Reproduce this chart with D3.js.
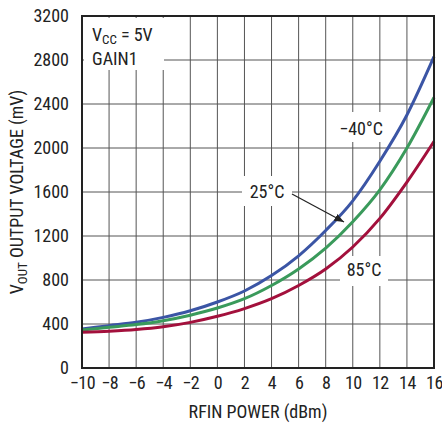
<!DOCTYPE html>
<html lang="en">
<head>
  <meta charset="UTF-8">
  <title>VOUT vs RFIN</title>
  <script src="https://d3js.org/d3.v7.min.js"></script>
  <style>
    body { margin: 0; background: #fff; }
    text { font-family: "Liberation Sans Narrow", "Roboto Condensed", "Liberation Sans", sans-serif; fill: #222; }
  </style>
</head>
<body>
<script>
  // data
  const power = [-10, -8, -6, -4, -2, 0, 2, 4, 6, 8, 10, 12, 14, 16];
  const vMinus40 = [355, 385, 415, 460, 520, 600, 700, 840, 1020, 1250, 1520, 1880, 2300, 2830];
  const v25 = [345, 370, 395, 430, 480, 545, 630, 750, 900, 1090, 1330, 1620, 2000, 2460];
  const v85 = [325, 335, 350, 375, 415, 470, 540, 630, 750, 900, 1100, 1360, 1690, 2060];
  const xTicks = d3.range(-10, 17, 2);
  const yTicks = d3.range(0, 3201, 400);

  const series = [
    { name: "-40", values: vMinus40, color: "#3b55a5" },
    { name: "25", values: v25, color: "#3a9a5b" },
    { name: "85", values: v85, color: "#a3103c" },
  ];

  // render
  const svg = d3.select("body").append("svg")
      .attr("width", 442).attr("height", 425);

  const mLeft = 82, mRight = 434, mTop = 16, mBottom = 368;
  const x = d3.scaleLinear().domain([-10, 16]).range([mLeft, mRight]);
  const y = d3.scaleLinear().domain([0, 3200]).range([mBottom, mTop]);

  const grid = svg.append("g").attr("stroke", "#555").attr("stroke-width", 1);
  grid.selectAll(".v").data(xTicks).join("line")
      .attr("x1", d => x(d)).attr("x2", d => x(d))
      .attr("y1", mTop).attr("y2", mBottom);
  grid.selectAll(".h").data(yTicks).join("line")
      .attr("x1", mLeft).attr("x2", mRight)
      .attr("y1", d => y(d)).attr("y2", d => y(d));

  // white label boxes over the grid
  const boxes = [[84, 18, 80, 52], [330, 112, 52, 30], [242, 176, 50, 30], [340, 256, 48, 30]];
  svg.selectAll(".box").data(boxes).join("rect")
      .attr("x", d => d[0]).attr("y", d => d[1])
      .attr("width", d => d[2]).attr("height", d => d[3]).attr("fill", "#fff");

  const line = d3.line().x((d, i) => x(power[i])).y(d => y(d)).curve(d3.curveMonotoneX);
  svg.selectAll(".curve").data(series).join("path")
      .attr("fill", "none").attr("stroke", d => d.color).attr("stroke-width", 3)
      .attr("d", d => line(d.values));

  svg.append("rect").attr("x", mLeft).attr("y", mTop)
      .attr("width", mRight - mLeft).attr("height", mBottom - mTop)
      .attr("fill", "none").attr("stroke", "#222").attr("stroke-width", 2);

  const xAxis = svg.append("g").attr("transform", `translate(0,${mBottom})`)
      .call(d3.axisBottom(x).tickValues(xTicks).tickSize(0).tickPadding(8)
        .tickFormat(d => d < 0 ? "\u2212" + (-d) : String(d)));
  const yAxis = svg.append("g").attr("transform", `translate(${mLeft},0)`)
      .call(d3.axisLeft(y).tickValues(yTicks).tickSize(0).tickPadding(13)
        .tickFormat(d3.format("d")));
  [xAxis, yAxis].forEach(a => {
    a.select(".domain").remove();
    a.attr("font-family", null).attr("font-size", null);
    a.selectAll("text").attr("font-size", 18);
  });
  xAxis.selectAll("text").attr("letter-spacing", -0.5);

  svg.append("text").attr("x", (mLeft + mRight) / 2).attr("y", 418)
      .attr("text-anchor", "middle").attr("font-size", 18).text("RFIN POWER (dBm)");

  const yl = svg.append("text").attr("transform", `translate(23,${(mTop + mBottom) / 2}) rotate(-90)`)
      .attr("text-anchor", "middle").attr("font-size", 18);
  yl.append("tspan").text("V");
  yl.append("tspan").attr("font-size", 13).attr("dy", 4).text("OUT");
  yl.append("tspan").attr("dy", -4).text(" OUTPUT VOLTAGE (mV)");

  const vcc = svg.append("text").attr("x", 92).attr("y", 41).attr("font-size", 18);
  vcc.append("tspan").text("V");
  vcc.append("tspan").attr("font-size", 13).attr("dy", 3).text("CC");
  vcc.append("tspan").attr("dy", -3).text(" = 5V");
  svg.append("text").attr("x", 92).attr("y", 65).attr("font-size", 18).text("GAIN1");

  const labels = [["\u221240\u00b0C", 361, 135], ["25\u00b0C", 267, 198], ["85\u00b0C", 364, 276]];
  svg.selectAll(".lbl").data(labels).join("text")
      .attr("x", d => d[1]).attr("y", d => d[2]).attr("text-anchor", "middle")
      .attr("font-size", 18).text(d => d[0]);

  svg.append("defs").append("marker").attr("id", "ah").attr("viewBox", "0 0 10 10")
      .attr("refX", 10).attr("refY", 5).attr("markerWidth", 8).attr("markerHeight", 8)
      .attr("orient", "auto").append("path").attr("d", "M0,1 L10,5 L0,9 Z").attr("fill", "#222");
  svg.append("line").attr("x1", 292).attr("y1", 194).attr("x2", 344).attr("y2", 222)
      .attr("stroke", "#222").attr("stroke-width", 1.2).attr("marker-end", "url(#ah)");
</script>
</body>
</html>
